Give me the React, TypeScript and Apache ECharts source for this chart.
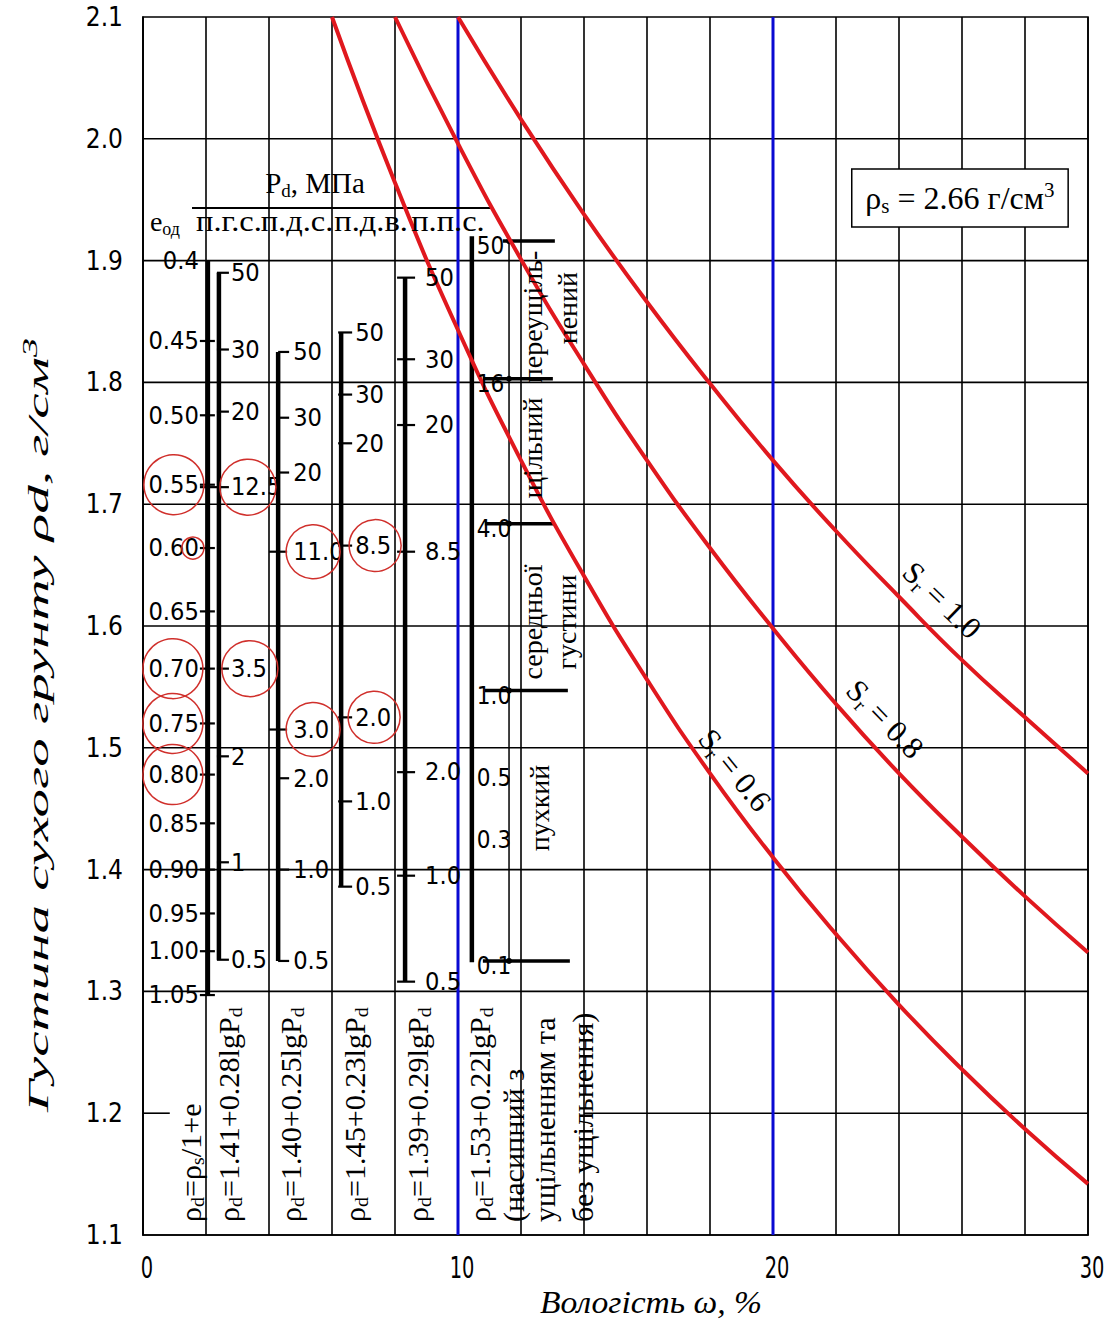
import React, { useEffect, useRef } from "react";
import * as echarts from "echarts";

// ---------------- data ----------------
const sr10W = [10, 12, 14, 16, 18, 20, 22, 24, 26, 28, 30];
const sr10Rho = [2.1, 2.016, 1.938, 1.866, 1.799, 1.736, 1.678, 1.624, 1.572, 1.525, 1.479];
const sr08W = [8, 10, 12, 14, 16, 18, 20, 22, 24, 26, 28, 30];
const sr08Rho = [2.1, 1.996, 1.901, 1.815, 1.736, 1.664, 1.598, 1.536, 1.479, 1.427, 1.378, 1.332];
const sr06W = [6, 8, 10, 12, 14, 16, 18, 20, 22, 24, 26, 28, 30];
const sr06Rho = [2.1, 1.964, 1.843, 1.736, 1.641, 1.556, 1.479, 1.41, 1.347, 1.289, 1.236, 1.187, 1.142];
const srNames = ["1.0", "0.8", "0.6"];
const blueLinesW = [10, 20];
const xTickLabels = [0, 10, 20, 30];
const hGridRho = [1.3, 1.4, 1.5, 1.6, 1.7, 1.8, 1.9, 2.0];

// void ratio scale e_од
const eLabels = ["0.4", "0.45", "0.50", "0.55", "0.60", "0.65", "0.70", "0.75", "0.80", "0.85", "0.90", "0.95", "1.00", "1.05"];
const eRho = [1.9, 1.834, 1.773, 1.716, 1.664, 1.612, 1.565, 1.52, 1.478, 1.438, 1.4, 1.364, 1.333, 1.297];
// п.г.с.
const pgsLabels = ["50", "30", "20", "12.5", "3.5", "2", "1", "0.5"];
const pgsRho = [1.89, 1.827, 1.776, 1.714, 1.565, 1.493, 1.406, 1.326];
// п.д.с.
const pdsLabels = ["50", "30", "20", "11.0", "3.0", "2.0", "1.0", "0.5"];
const pdsRho = [1.825, 1.771, 1.726, 1.661, 1.515, 1.475, 1.4, 1.325];
// п.д.в.
const pdvLabels = ["50", "30", "20", "8.5", "2.0", "1.0", "0.5"];
const pdvRho = [1.841, 1.79, 1.75, 1.666, 1.525, 1.456, 1.386];
// п.п.с.
const ppsLabels = ["50", "30", "20", "8.5", "2.0", "1.0", "0.5"];
const ppsRho = [1.886, 1.819, 1.765, 1.661, 1.48, 1.395, 1.308];
// насипний
const nasLabels = ["50", "16", "4.0", "1.0", "0.5", "0.3", "0.1"];
const nasRho = [1.916, 1.803, 1.684, 1.547, 1.479, 1.428, 1.325];
const nasBoundIdx = [0, 1, 2, 3, 6];

const headerAbbr = ["п.г.с.", "п.д.с.", "п.д.в.", "п.п.с."];
const categoryTexts = ["переущіль-", "нений", "щільний", "середньої", "густини", "пухкий"];
const formulaTexts = [
  "{m|ρ}{s|d}{m|=ρ}{s|s}{m|/1+e}",
  "{m|ρ}{s|d}{m|=1.41+0.28lgP}{s|d}",
  "{m|ρ}{s|d}{m|=1.40+0.25lgP}{s|d}",
  "{m|ρ}{s|d}{m|=1.45+0.23lgP}{s|d}",
  "{m|ρ}{s|d}{m|=1.39+0.29lgP}{s|d}",
  "{m|ρ}{s|d}{m|=1.53+0.22lgP}{s|d}",
  "{m|(насипний з}",
  "{m|ущільненням та}",
  "{m|без ущільнення)}",
];

const SERIF = '"Liberation Serif","Times New Roman",serif';
const ISO = '"DejaVu Sans Condensed","Liberation Sans Narrow","DejaVu Sans",sans-serif';
const RED = "#e0181e";
const CIRCLE = "#d0302c";
const BLUE = "#0a0ad2";

function richSerif(size: number, italic = false) {
  const fs = italic ? "italic" : "normal";
  return {
    m: { fontSize: size, fontFamily: SERIF, fontStyle: fs, fill: "#000", lineHeight: Math.round(size * 1.15) },
    s: { fontSize: Math.round(size * 0.65), fontFamily: SERIF, fontStyle: fs, fill: "#000", lineHeight: Math.round(size * 0.7), verticalAlign: "bottom" },
    p: { fontSize: Math.round(size * 0.65), fontFamily: SERIF, fontStyle: fs, fill: "#000", lineHeight: Math.round(size * 0.7), verticalAlign: "top" },
  };
}

function buildGraphic(chart: any) {
  const P = (x: number, y: number) => chart.convertToPixel({ gridIndex: 0 }, [x, y]) as number[];
  const els: any[] = [];
  const line = (x1: number, y1: number, x2: number, y2: number, stroke: string, w: number, z = 5) =>
    els.push({ type: "line", silent: true, z, shape: { x1, y1, x2, y2 }, style: { stroke, lineWidth: w } });
  const txt = (x: number, y: number, text: string, o: any = {}) =>
    els.push({
      type: "text",
      silent: true,
      z: o.z ?? 7,
      x,
      y,
      rotation: o.rot || 0,
      scaleX: o.sx || 1,
      style: {
        text,
        fill: "#000",
        fontSize: o.size || 24,
        fontFamily: o.family || ISO,
        fontStyle: o.italic ? "italic" : "normal",
        textAlign: o.align || "center",
        textVerticalAlign: o.valign || "middle",
        rich: o.rich,
      },
    });

  // horizontal grid lines
  hGridRho.forEach((r) => {
    const [x1, y] = P(0, r);
    const [x2] = P(30, r);
    line(x1, y, x2, y, "#000", 1.6, 1);
  });
  {
    const [a, y] = P(0, 1.2);
    const [b] = P(0.85, 1.2);
    const [c] = P(14, 1.2);
    const [d] = P(30, 1.2);
    line(a, y, b, y, "#000", 1.6, 1);
    line(c, y, d, y, "#000", 1.6, 1);
  }
  // blue lines
  blueLinesW.forEach((w) => {
    const [x, y1] = P(w, 2.1);
    const [, y2] = P(w, 1.1);
    line(x, y1, x, y2, BLUE, 3, 2);
  });

  // nomogram scales
  const scales = [
    { labels: eLabels, rho: eRho, x: 2.06, top: 1.9, bottom: 1.297, tick: [-8, 7], ldx: -9, align: "right", noTick: [0], over: {} as any,
      circles: [ { i: 3, dx: -34, r: 30 }, { i: 6, dx: -35, r: 30 }, { i: 7, dx: -35, r: 30 }, { i: 8, dx: -35, r: 30 }, { i: 4, dx: -15, r: 11 } ] },
    { labels: pgsLabels, rho: pgsRho, x: 2.41, top: 1.89, bottom: 1.326, tick: [-2, 10], ldx: 12, align: "left", noTick: [], over: { 3: [-19, 10] } as any,
      circles: [ { i: 3, dx: 29, r: 28 }, { i: 4, dx: 31, r: 28 } ] },
    { labels: pdsLabels, rho: pdsRho, x: 4.29, top: 1.825, bottom: 1.325, tick: [0, 11], ldx: 15, align: "left", noTick: [], over: { 3: [-9, 9], 4: [-9, 9] } as any,
      circles: [ { i: 3, dx: 35, r: 27 }, { i: 4, dx: 35, r: 27 } ] },
    { labels: pdvLabels, rho: pdvRho, x: 6.29, top: 1.841, bottom: 1.386, tick: [-3, 11], ldx: 14, align: "left", noTick: [], over: {} as any,
      circles: [ { i: 3, dx: 34, r: 26 }, { i: 4, dx: 33, r: 26 } ] },
    { labels: ppsLabels, rho: ppsRho, x: 8.32, top: 1.886, bottom: 1.308, tick: [-8, 10], ldx: 20, align: "left", noTick: [], over: {} as any, circles: [] },
  ];
  scales.forEach((s) => {
    const [bx, by1] = P(s.x, s.top);
    const [, by2] = P(s.x, s.bottom);
    line(bx, by1, bx, by2, "#000", 4.5, 5);
    s.labels.forEach((lab, i) => {
      const [, ty] = P(s.x, s.rho[i]);
      if (!(s.noTick as number[]).includes(i)) {
        const t = s.over[i] || s.tick;
        line(bx + t[0], ty, bx + t[1], ty, "#000", 2.2, 5);
      }
      txt(bx + s.ldx, ty, lab, { size: 24, align: s.align, sx: 1.05 });
    });
    s.circles.forEach((c) => {
      const [, cy] = P(s.x, s.rho[c.i]);
      els.push({ type: "circle", silent: true, z: 7, shape: { cx: bx + c.dx, cy, r: c.r }, style: { fill: "none", stroke: CIRCLE, lineWidth: 1.5 } });
    });
  });

  // насипний scale
  {
    const nasX = 10.44;
    const thinX = 11.62;
    const [bx, by1] = P(nasX, 1.92);
    const [, by2] = P(nasX, 1.324);
    line(bx, by1, bx, by2, "#000", 4.5, 5);
    const [tx, ty1] = P(thinX, nasRho[0]);
    const [, ty2] = P(thinX, nasRho[6]);
    line(tx, ty1, tx, ty2, "#000", 1.5, 5);
    const ext: any = { 0: [31, 83], 1: [11, 81], 2: [13, 83], 3: [13, 96], 6: [11, 98] };
    nasLabels.forEach((lab, i) => {
      const [, y] = P(nasX, nasRho[i]);
      txt(bx + 5, y + 5, lab, { size: 24, align: "left" });
      if (nasBoundIdx.includes(i)) {
        line(bx + ext[i][0], y, bx + ext[i][1], y, "#000", 3.5, 5);
        els.push({ type: "circle", silent: true, z: 6, shape: { cx: tx, cy: y, r: 3 }, style: { fill: "#000" } });
      }
    });
  }

  // header
  {
    const [hx, hy] = P(5.46, 1.9637);
    txt(hx, hy, "{m|P}{s|d}{m|, МПа}", { rich: richSerif(29) });
    const [lx1, ly] = P(1.556, 1.9432);
    const [lx2] = P(11.02, 1.9432);
    line(lx1, ly, lx2, ly, "#000", 2.2, 5);
    const [ex, ey] = P(0.22, 1.9317);
    txt(ex, ey, "{m|e}{s|од}", { rich: richSerif(28), align: "left" });
    const abbrX = [2.73, 4.89, 7.24, 9.68];
    headerAbbr.forEach((a, i) => {
      const [ax, ay] = P(abbrX[i], 1.9317);
      txt(ax, ay, "{m|" + a + "}", { rich: richSerif(29), sx: 1.12 });
    });
  }

  // density category texts
  {
    const pos = [ [12.38, 1.8537], [13.49, 1.861], [12.38, 1.7462], [12.38, 1.6033], [13.46, 1.6033], [12.6, 1.4506] ];
    categoryTexts.forEach((t, i) => {
      const [x, y] = P(pos[i][0], pos[i][1]);
      txt(x, y, "{m|" + t + "}", { rich: richSerif(28), rot: Math.PI / 2 });
    });
  }

  // formula texts (lower band)
  {
    const fx = [1.52, 2.73, 4.7, 6.73, 8.73, 10.7, 11.78, 12.76, 13.98];
    formulaTexts.forEach((t, i) => {
      const [x, y] = P(fx[i], 1.1107);
      txt(x, y, t, { rich: richSerif(29), rot: Math.PI / 2, align: "left", sx: 1.04 });
    });
  }

  // ρs box
  {
    const [x1, y1] = P(22.5, 1.9752);
    const [x2, y2] = P(29.37, 1.9276);
    els.push({ type: "rect", silent: true, z: 6, shape: { x: x1, y: y1, width: x2 - x1, height: y2 - y1 }, style: { fill: "#fff", stroke: "#000", lineWidth: 1.5 } });
    txt((x1 + x2) / 2, (y1 + y2) / 2, "{m|ρ}{s|s}{m| = 2.66 г/см}{p|3}", { rich: richSerif(32) });
  }

  // Sr labels
  {
    const pos = [ [25.37, 1.6213, -44], [23.56, 1.5236, -46], [18.79, 1.4818, -51] ];
    srNames.forEach((n, i) => {
      const [x, y] = P(pos[i][0], pos[i][1]);
      txt(x, y, "{m|S}{s|r}{m| = " + n + "}", { rich: richSerif(31), rot: (pos[i][2] * Math.PI) / 180, z: 8 });
    });
  }

  // axis titles
  txt(38, 725, "{m|Густина сухого грунту ρd, г/см}{p|3}", { rich: richSerif(30, true), rot: Math.PI / 2, sx: 1.9 });
  txt(651, 1302, "{m|Вологість ω, %}", { rich: richSerif(32, true), sx: 1.05 });

  // x tick labels (narrow font emulated by scaling)
  xTickLabels.forEach((v) => {
    const [x, y] = P(v, 1.1);
    txt(x + 4, y + 33, String(v), { size: 30, family: '"DejaVu Sans Condensed","DejaVu Sans",sans-serif', sx: 0.72 });
  });

  return els;
}

export default function App() {
  const ref = useRef<HTMLDivElement>(null);
  useEffect(() => {
    if (!ref.current) return;
    const chart = echarts.init(ref.current, null, { renderer: "svg" });
    const curve = (w: number[], r: number[], name: string) => ({
      type: "line",
      name,
      data: w.map((x, i) => [x, r[i]]),
      smooth: true,
      symbol: "none",
      silent: true,
      z: 6,
      lineStyle: { color: RED, width: 4 },
    });
    chart.setOption({
      animation: false,
      backgroundColor: "#fff",
      grid: { left: 143, top: 17, width: 945, height: 1218, show: true, borderColor: "#000", borderWidth: 1.6, backgroundColor: "transparent" },
      xAxis: {
        type: "value",
        min: 0,
        max: 30,
        interval: 2,
        axisLine: { show: true, lineStyle: { color: "#000", width: 1.6 } },
        axisTick: { show: false },
        splitLine: { show: true, lineStyle: { color: "#000", width: 1.6 } },
        axisLabel: { show: false },
      },
      yAxis: {
        type: "value",
        min: 1.1,
        max: 2.1,
        interval: 0.1,
        axisLine: { show: true, lineStyle: { color: "#000", width: 1.6 } },
        axisTick: { show: false },
        splitLine: { show: false },
        axisLabel: { formatter: (v: number) => v.toFixed(1), margin: 20, fontSize: 26, fontFamily: ISO, color: "#000" },
      },
      series: [
        curve(sr10W, sr10Rho, "Sr = " + srNames[0]),
        curve(sr08W, sr08Rho, "Sr = " + srNames[1]),
        curve(sr06W, sr06Rho, "Sr = " + srNames[2]),
      ],
    });
    chart.setOption({ graphic: buildGraphic(chart) });
    return () => chart.dispose();
  }, []);
  return <div ref={ref} style={{ position: "absolute", left: 0, top: 0, width: 1119, height: 1319, background: "#fff" }} />;
}
